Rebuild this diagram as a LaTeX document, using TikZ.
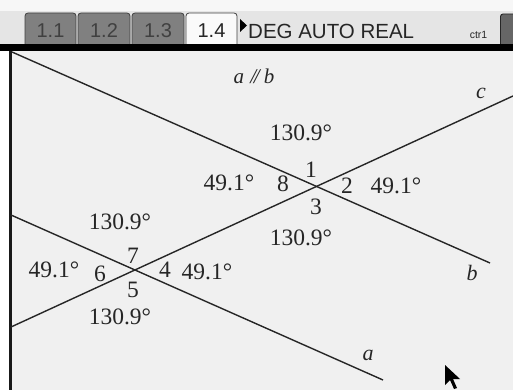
\documentclass[tikz,border=0pt]{standalone}
\usepackage{fontspec}
\setmainfont{Liberation Serif}
\setsansfont{Liberation Sans}
\begin{document}
\begin{tikzpicture}[x=1pt,y=-1pt,
  lbl/.style={font=\fontsize{23.5}{23.5}\selectfont, inner sep=0pt, text=black!85},
  lname/.style={font=\fontsize{22}{22}\selectfont\itshape, inner sep=0pt, text=black!85},
  geoline/.style={line width=1.4pt, black!85},
  darktab/.style={fill=black!50, draw=black!75, line width=0.8pt, rounded corners=3pt},
  lighttab/.style={fill=black!2, draw=black!75, line width=0.8pt, rounded corners=3pt},
  tabtext/.style={font=\sffamily\fontsize{20}{20}\selectfont, inner sep=0pt}]
\useasboundingbox (0,0) rectangle (513,390);
% top bar
\fill[black!10] (0,0) rectangle (513,46);
\fill[black!3] (0,0) rectangle (513,11);
% tabs
\path[darktab] (25,47) -- (25,13) -- (76,13) -- (76,47);
\path[darktab] (78,47) -- (78,13) -- (130,13) -- (130,47);
\path[darktab] (132,47) -- (132,13) -- (184,13) -- (184,47);
\path[lighttab] (186,47) -- (186,13) -- (237,13) -- (237,47);
\node[tabtext, text=black!75] (t1) at (50.5,31) {1.1};
\node[tabtext, text=black!75] (t2) at (104,31) {1.2};
\node[tabtext, text=black!75] (t3) at (158,31) {1.3};
\node[tabtext, text=black!85] (t4) at (211.5,31) {1.4};
\fill[black] (240,19) -- (247,25.5) -- (240,32) -- cycle;
\node[font=\sffamily\fontsize{20.5}{20.5}\selectfont, inner sep=0pt, anchor=west, text=black!85] (mode) at (248,31) {DEG AUTO REAL};
\node[font=\sffamily\fontsize{10.5}{10.5}\selectfont, inner sep=0pt, text=black!85] (ctr) at (478.5,35) {ctr1};
\path[fill=black!60, draw=black!85, line width=0.9pt, rounded corners=2.5pt] (500.5,44) -- (500.5,14) -- (516,14) -- (516,44);
% black separator and drawing area
\fill[black] (0,44) rectangle (513,51);
\fill[black!6] (11.5,51) rectangle (513,390);
\fill[black!90] (9,51) rectangle (11.5,390);
% lines
\coordinate (bS) at (12,52);
\coordinate (bE) at (490,263);
\coordinate (aS) at (11,215);
\coordinate (aE) at (383,380);
\coordinate (cS) at (11,327);
\coordinate (cE) at (513,96);
\draw[geoline] (bS) -- (bE);
\draw[geoline] (aS) -- (aE);
\draw[geoline] (cS) -- (cE);
% line names
\node[lname] (na) at (368,355) {a};
\node[lname] (nb) at (472,273) {b};
\node[lname] (nc) at (481,93) {c};
\node[font=\fontsize{21}{21}\selectfont\itshape, inner sep=0pt, text=black!85] (par) at (254,76) {a\kern0.3em/\kern-0.12em/\kern0.2em b};
% upper intersection labels
\node[lbl] (u130t) at (301,133) {130.9°};
\node[lbl] (u49l) at (229,183) {49.1°};
\node[lbl] (u8) at (283,184) {8};
\node[lbl] (u1) at (311,170) {1};
\node[lbl] (u2) at (347,186) {2};
\node[lbl] (u49r) at (396,186) {49.1°};
\node[lbl] (u3) at (316,207) {3};
\node[lbl] (u130b) at (301,238) {130.9°};
% lower intersection labels
\node[lbl] (l130t) at (120,222) {130.9°};
\node[lbl] (l7) at (133,256) {7};
\node[lbl] (l6) at (100,274) {6};
\node[lbl] (l49l) at (54,270) {49.1°};
\node[lbl] (l4) at (165,270) {4};
\node[lbl] (l49r) at (207,272) {49.1°};
\node[lbl] (l5) at (133,290) {5};
\node[lbl] (l130b) at (120,317) {130.9°};
% cursor
\fill[black] (445,365) -- (445,385) -- (450,380) -- (454,389) -- (457,388) -- (453,379) -- (460,379) -- cycle;
\end{tikzpicture}
\end{document}
